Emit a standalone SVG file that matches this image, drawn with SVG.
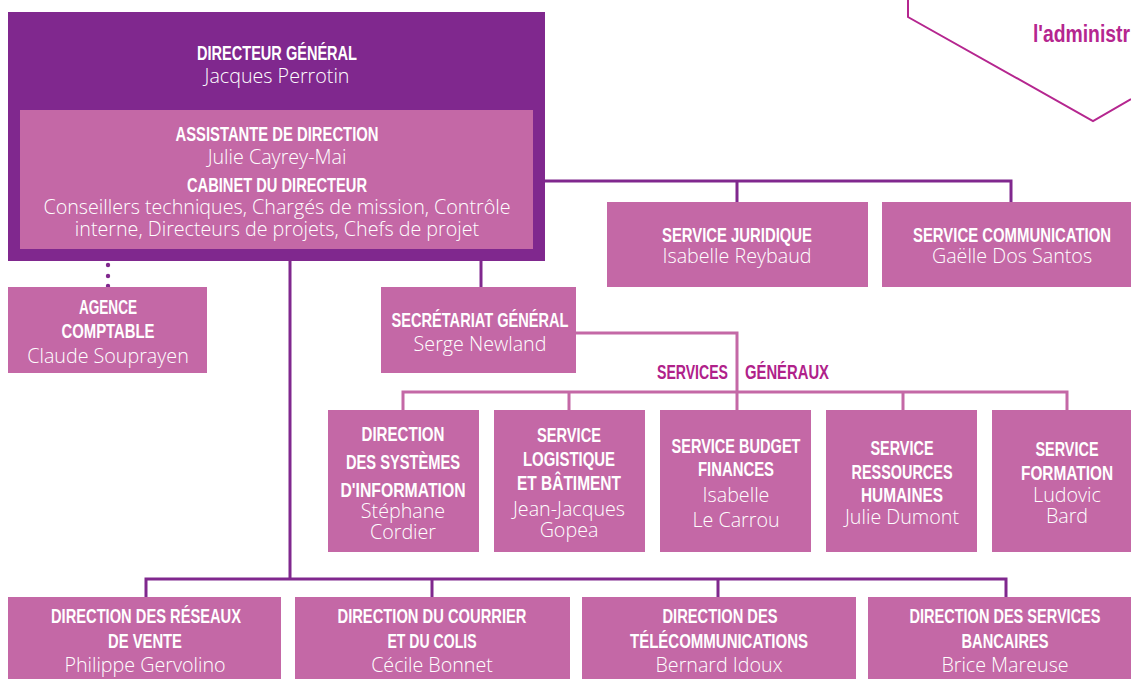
<svg xmlns="http://www.w3.org/2000/svg" width="1131" height="679" viewBox="0 0 1131 679">
<style>
.box{fill:#C468A6}
.dg{fill:#80288E}
.t{font-family:"Liberation Sans",Arial,sans-serif;font-weight:bold;font-size:20px;fill:#fff;text-anchor:middle}
.n{font-family:"Open Sans",Lato,sans-serif;font-weight:300;font-size:19.7px;fill:#fff;text-anchor:middle}
.cp{fill:none;stroke:#80288E;stroke-width:3}
.cl{fill:none;stroke:#C468A6;stroke-width:3}
.m{font-family:"Liberation Sans",Arial,sans-serif;font-weight:bold;font-size:20px;fill:#B0218A}
</style>
<rect width="1131" height="679" fill="#fff"/>
<g id="decor">
<path d="M908,0 V17 L1093,121 L1131,99" fill="none" stroke="#B5268F" stroke-width="2"/>
<text x="1033" y="42" font-family="Liberation Sans,Arial,sans-serif" font-weight="bold" font-size="24" fill="#B5268F" textLength="97" lengthAdjust="spacingAndGlyphs">l'administr</text>
</g>
<g id="connectors">
<path class="cp" d="M545,181 H1011 V202 M737,181 V202"/>
<path class="cp" d="M290,261 V579 M146,597 V579 H1006 V597 M432,579 V597 M718,579 V597"/>
<path class="cp" d="M481,261 V287"/>
<g fill="#80288E"><circle cx="108" cy="265" r="2.2"/><circle cx="108" cy="276" r="2.2"/><circle cx="108" cy="286" r="2.2"/></g>
<path class="cl" d="M576,333 H737 V410 M403,410 V392 H1067 V410 M569,392 V410 M903,392 V410"/>
</g>
<g id="directeur">
<rect class="dg" x="8" y="12" width="537" height="249"/>
<text class="t" x="277" y="60" textLength="160" lengthAdjust="spacingAndGlyphs">DIRECTEUR GÉNÉRAL</text>
<text class="n" x="277" y="83">Jacques Perrotin</text>
</g>
<g id="cabinet">
<rect class="box" x="20" y="110" width="513" height="139"/>
<text class="t" x="277" y="141" textLength="203" lengthAdjust="spacingAndGlyphs">ASSISTANTE DE DIRECTION</text>
<text class="n" x="277" y="164">Julie Cayrey-Mai</text>
<text class="t" x="277" y="192" textLength="180" lengthAdjust="spacingAndGlyphs">CABINET DU DIRECTEUR</text>
<text class="n" x="277" y="214">Conseillers techniques, Chargés de mission, Contrôle</text>
<text class="n" x="277" y="236">interne, Directeurs de projets, Chefs de projet</text>
</g>
<g id="juridique">
<rect class="box" x="607" y="202" width="261" height="85"/>
<text class="t" x="737" y="242" textLength="150" lengthAdjust="spacingAndGlyphs">SERVICE JURIDIQUE</text>
<text class="n" x="737" y="263">Isabelle Reybaud</text>
</g>
<g id="communication">
<rect class="box" x="882" y="202" width="249" height="85"/>
<text class="t" x="1012" y="242" textLength="198" lengthAdjust="spacingAndGlyphs">SERVICE COMMUNICATION</text>
<text class="n" x="1012" y="263">Gaëlle Dos Santos</text>
</g>
<g id="agence">
<rect class="box" x="8" y="287" width="199" height="86"/>
<text class="t" x="108" y="314" textLength="58" lengthAdjust="spacingAndGlyphs">AGENCE</text>
<text class="t" x="108" y="338" textLength="93" lengthAdjust="spacingAndGlyphs">COMPTABLE</text>
<text class="n" x="108" y="363">Claude Souprayen</text>
</g>
<g id="secretariat">
<rect class="box" x="381" y="287" width="195" height="86"/>
<text class="t" x="480" y="327" textLength="177" lengthAdjust="spacingAndGlyphs">SECRÉTARIAT GÉNÉRAL</text>
<text class="n" x="480" y="351">Serge Newland</text>
</g>
<g id="services-generaux">
<text class="m" x="657" y="379" textLength="71" lengthAdjust="spacingAndGlyphs">SERVICES</text>
<text class="m" x="745" y="379" textLength="84" lengthAdjust="spacingAndGlyphs">GÉNÉRAUX</text>
</g>
<g id="dsi">
<rect class="box" x="328" y="410" width="151" height="142"/>
<text class="t" x="403" y="441" textLength="83" lengthAdjust="spacingAndGlyphs">DIRECTION</text>
<text class="t" x="403" y="469" textLength="114" lengthAdjust="spacingAndGlyphs">DES SYSTÈMES</text>
<text class="t" x="403" y="497" textLength="125" lengthAdjust="spacingAndGlyphs">D'INFORMATION</text>
<text class="n" x="403" y="518">Stéphane</text>
<text class="n" x="403" y="539">Cordier</text>
</g>
<g id="logistique">
<rect class="box" x="494" y="410" width="151" height="142"/>
<text class="t" x="569" y="442" textLength="64" lengthAdjust="spacingAndGlyphs">SERVICE</text>
<text class="t" x="569" y="466" textLength="92" lengthAdjust="spacingAndGlyphs">LOGISTIQUE</text>
<text class="t" x="569" y="490" textLength="104" lengthAdjust="spacingAndGlyphs">ET BÂTIMENT</text>
<text class="n" x="569" y="516">Jean-Jacques</text>
<text class="n" x="569" y="537">Gopea</text>
</g>
<g id="budget">
<rect class="box" x="660" y="410" width="151" height="142"/>
<text class="t" x="736" y="453" textLength="129" lengthAdjust="spacingAndGlyphs">SERVICE BUDGET</text>
<text class="t" x="736" y="476" textLength="76" lengthAdjust="spacingAndGlyphs">FINANCES</text>
<text class="n" x="736" y="502">Isabelle</text>
<text class="n" x="736" y="527">Le Carrou</text>
</g>
<g id="rh">
<rect class="box" x="826" y="410" width="151" height="142"/>
<text class="t" x="902" y="455" textLength="63" lengthAdjust="spacingAndGlyphs">SERVICE</text>
<text class="t" x="902" y="479" textLength="101" lengthAdjust="spacingAndGlyphs">RESSOURCES</text>
<text class="t" x="902" y="502" textLength="82" lengthAdjust="spacingAndGlyphs">HUMAINES</text>
<text class="n" x="902" y="524">Julie Dumont</text>
</g>
<g id="formation">
<rect class="box" x="992" y="410" width="139" height="142"/>
<text class="t" x="1067" y="456" textLength="63" lengthAdjust="spacingAndGlyphs">SERVICE</text>
<text class="t" x="1067" y="480" textLength="92" lengthAdjust="spacingAndGlyphs">FORMATION</text>
<text class="n" x="1067" y="502">Ludovic</text>
<text class="n" x="1067" y="523">Bard</text>
</g>
<g id="reseaux">
<rect class="box" x="8" y="597" width="273" height="82"/>
<text class="t" x="146" y="623" textLength="190" lengthAdjust="spacingAndGlyphs">DIRECTION DES RÉSEAUX</text>
<text class="t" x="145" y="648" textLength="74" lengthAdjust="spacingAndGlyphs">DE VENTE</text>
<text class="n" x="145" y="672">Philippe Gervolino</text>
</g>
<g id="courrier">
<rect class="box" x="295" y="597" width="275" height="82"/>
<text class="t" x="432" y="623" textLength="189" lengthAdjust="spacingAndGlyphs">DIRECTION DU COURRIER</text>
<text class="t" x="432" y="648" textLength="89" lengthAdjust="spacingAndGlyphs">ET DU COLIS</text>
<text class="n" x="432" y="672">Cécile Bonnet</text>
</g>
<g id="telecom">
<rect class="box" x="582" y="597" width="274" height="82"/>
<text class="t" x="720" y="623" textLength="115" lengthAdjust="spacingAndGlyphs">DIRECTION DES</text>
<text class="t" x="719" y="648" textLength="178" lengthAdjust="spacingAndGlyphs">TÉLÉCOMMUNICATIONS</text>
<text class="n" x="719" y="672">Bernard Idoux</text>
</g>
<g id="bancaires">
<rect class="box" x="868" y="597" width="263" height="82"/>
<text class="t" x="1005" y="623" textLength="191" lengthAdjust="spacingAndGlyphs">DIRECTION DES SERVICES</text>
<text class="t" x="1005" y="648" textLength="87" lengthAdjust="spacingAndGlyphs">BANCAIRES</text>
<text class="n" x="1005" y="672">Brice Mareuse</text>
</g>
</svg>
